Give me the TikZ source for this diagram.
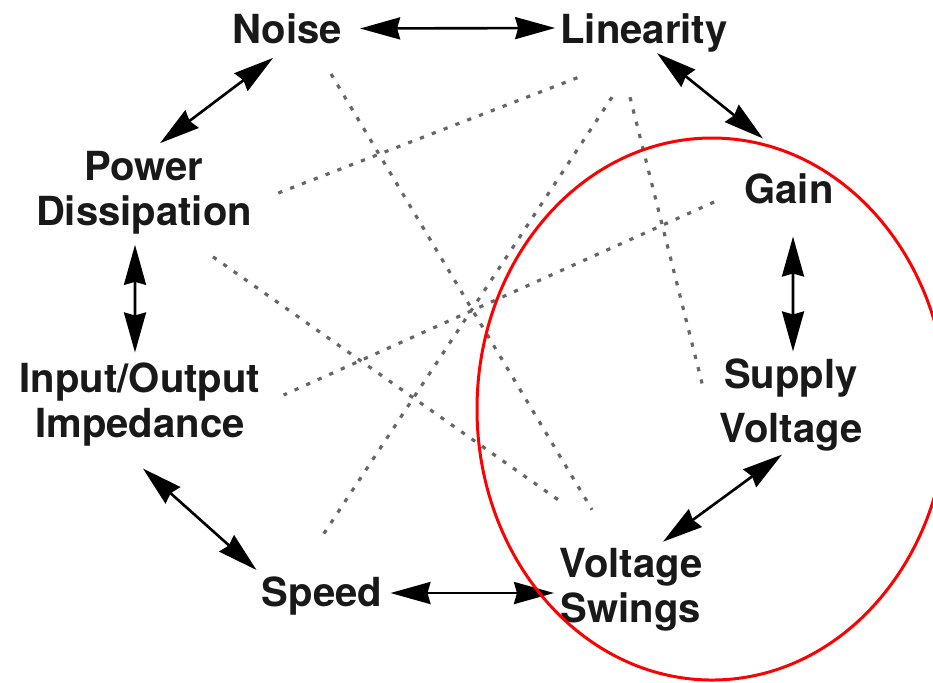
\documentclass[tikz,border=0pt]{standalone}
\usepackage{fontspec}
\setmainfont{TeX Gyre Heros}
\usepackage{tikz}
\usetikzlibrary{arrows.meta}
\usetikzlibrary{positioning}
\tikzstyle{factor} = [rectangle, 
inner sep=0pt,
align=center, 
font=\bfseries\fontsize{22.8}{25.6}\selectfont,
text=black!90]
\tikzstyle{link} = [line width=1.5pt, <->, 
>={Stealth[length=0.8cm, width=0.44cm, inset=0.06cm]}]
\tikzstyle{tradeoff} = [black!60, 
line width=1.8pt, 
dash pattern=on 2.4pt off 4.8pt]
\tikzstyle{focus} = [red, line width=1.7pt]

\begin{document}
\begin{tikzpicture}[node distance=2cm]
        \useasboundingbox (-5.74,0.57) rectangle (12.92,-13.07);

        \node (noise) [factor] 
        {Noise};
        \node (linearity) [factor, right of = noise, xshift = 5.14cm, yshift = -0.08cm] 
        {Linearity};
        \node (gain) [factor, below of = linearity, xshift = 2.9cm, yshift = -1.13cm] 
        {Gain};
        \node (supply) [factor, below of = gain, xshift = 0.04cm, yshift = -2.32cm] 
        {Supply\\[0.18cm]Voltage};
        \node (swings) [factor, below of = supply, xshift = -3.2cm, yshift = -1.69cm] 
        {Voltage\\Swings};
        \node (speed) [factor, left of = swings, xshift = -4.18cm, yshift = -0.13cm] 
        {Speed};
        \node (power) [factor, below of = noise, xshift = -2.86cm, yshift = -1.29cm] 
        {Power\\Dissipation};
        \node (impedance) [factor, below of = power, xshift = -0.08cm, yshift = -2.23cm] 
        {Input/Output\\Impedance};

        % weaker trade-offs
        \draw [tradeoff] ([xshift=0.88cm, yshift=-0.6cm]noise.south) -- ([xshift=-0.78cm, yshift=0.76cm]swings.north);
        \draw [tradeoff] ([xshift=0.52cm]power.east) -- ([xshift=-1.2cm, yshift=-0.46cm]linearity.south);
        \draw [tradeoff] ([xshift=-0.64cm, yshift=-0.9cm]linearity.south) -- ([yshift=0.8cm]speed.north);
        \draw [tradeoff] ([xshift=-0.28cm, yshift=-0.9cm]linearity.south) -- ([xshift=-0.32cm, yshift=0.36cm]supply.west);
        \draw [tradeoff] ([xshift=-0.6cm, yshift=-0.26cm]gain.west) -- ([xshift=0.46cm, yshift=0.19cm]impedance.east);
        \draw [tradeoff] ([xshift=1.38cm, yshift=-0.44cm]power.south) -- ([xshift=-1.46cm, yshift=0.96cm]swings.north);

        \draw [link] ([xshift=0.36cm]noise.east) -- ([xshift=-0.1cm, yshift=0.09cm]linearity.west);
        \draw [link] ([xshift=-0.28cm, yshift=-0.28cm]noise.south) -- ([xshift=0.32cm, yshift=0.16cm]power.north);
        \draw [link] ([xshift=-0.18cm, yshift=-0.2cm]power.south) -- ([xshift=-0.1cm, yshift=0.2cm]impedance.north);
        \draw [link] ([xshift=0.06cm, yshift=-0.44cm]impedance.south) -- ([xshift=-0.1cm, yshift=0.52cm]speed.west);
        \draw [link] ([xshift=0.16cm, yshift=0.06cm]speed.east) -- ([xshift=-0.1cm, yshift=-0.07cm]swings.west);
        \draw [link] ([xshift=0.64cm, yshift=0.12cm]swings.north) -- ([xshift=-0.18cm, yshift=-0.06cm]supply.south);
        \draw [link] ([xshift=0.04cm, yshift=0.14cm]supply.north) -- ([xshift=0.08cm, yshift=-0.64cm]gain.south);
        \draw [link] ([xshift=0.26cm, yshift=-0.02cm]linearity.south) -- ([xshift=-0.52cm, yshift=0.7cm]gain.north);

        \draw [focus] (8.5,-7.61) ellipse (4.7cm and 5.42cm);
        
        \end{tikzpicture}
\end{document}
